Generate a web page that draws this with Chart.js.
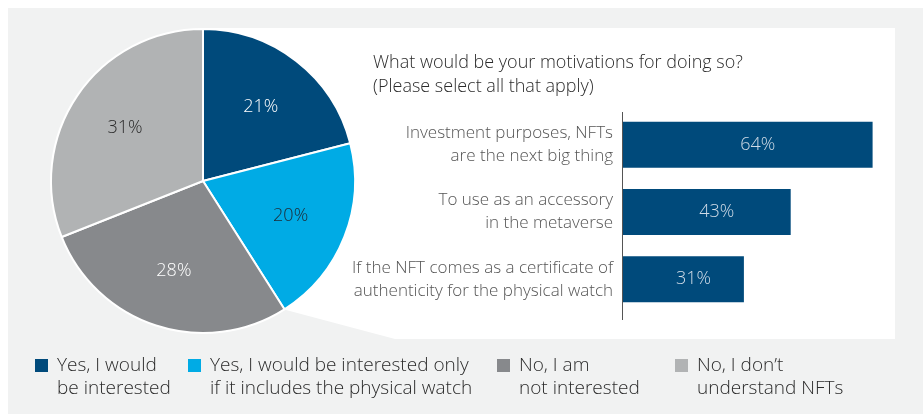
<!DOCTYPE html>
<html lang="en">
  <head>
    <meta charset="UTF-8" />
    <title>NFT motivations</title>
    <script src="https://cdn.jsdelivr.net/npm/chart.js@4"></script>
    <style>
      body { margin: 0; background: #fff; }
      .wrap { position: relative; width: 923px; height: 414px; }
      #pieChart { position: absolute; left: 0; top: 0; }
      #barChart { position: absolute; left: 340px; top: 100px; }
    </style>
  </head>
  <body>
    <div class="wrap">
      <canvas id="pieChart" width="923" height="414"></canvas>
      <canvas id="barChart" width="570" height="230"></canvas>
    </div>

    <script>
      // pie: would you be interested in an NFT of your watch
      const pieLabels = [
        ["Yes, I would", "be interested"],
        ["Yes, I would be interested only", "if it includes the physical watch"],
        ["No, I am", "not interested"],
        ["No, I don\u2019t", "understand NFTs"],
      ];
      const pieValues = [21, 20, 28, 31];
      const pieColors = ["#004a7b", "#00abe5", "#87898c", "#b1b3b4"];
      const pieTextColors = ["#ffffff", "#1d2833", "#ffffff", "#2b2b2b"];

      // bar: motivations
      const barTitle = ["What would be your motivations for doing so?", "(Please select all that apply)"];
      const barLabels = [
        ["Investment purposes, NFTs", "are the next big thing"],
        ["To use as an accessory", "in the metaverse"],
        ["If the NFT comes as a certificate of", "authenticity for the physical watch"],
      ];
      const barValues = [64, 43, 31];

      const legendX = [35, 188, 497, 675];
      const FONT = "'Open Sans', 'Noto Sans', sans-serif";

      Chart.defaults.font.family = FONT;
      Chart.defaults.animation = false;

      // background panels, title and legend drawn under/around the pie
      const backdrop = {
        id: "backdrop",
        beforeDraw(chart) {
          const ctx = chart.ctx;
          ctx.save();
          ctx.fillStyle = "#f1f2f2";
          ctx.fillRect(8, 8, 915, 406);
          ctx.fillStyle = "#ffffff";
          ctx.beginPath();
          ctx.moveTo(203, 28);
          ctx.lineTo(895, 28);
          ctx.lineTo(895, 339);
          ctx.lineTo(395, 339);
          ctx.lineTo(286, 310);
          ctx.lineTo(203, 181);
          ctx.closePath();
          ctx.fill();

          ctx.fillStyle = "#2b2b2b";
          ctx.font = "300 18px " + FONT;
          ctx.textBaseline = "middle";
          ctx.textAlign = "left";
          barTitle.forEach((t, i) => ctx.fillText(t, 373, 63 + i * 24));

          // legend
          ctx.font = "300 19px " + FONT;
          pieLabels.forEach((lines, i) => {
            ctx.fillStyle = pieColors[i];
            ctx.fillRect(legendX[i], 359, 13, 13);
            ctx.fillStyle = "#2b2b2b";
            lines.forEach((l, j) => ctx.fillText(l, legendX[i] + 22, 366 + j * 23));
          });
          ctx.restore();
        },
        afterDatasetsDraw(chart) {
          const ctx = chart.ctx;
          const meta = chart.getDatasetMeta(0);
          ctx.save();
          ctx.font = "300 18px " + FONT;
          ctx.textAlign = "center";
          ctx.textBaseline = "middle";
          meta.data.forEach((arc, i) => {
            const mid = (arc.startAngle + arc.endAngle) / 2;
            const r = arc.outerRadius * 0.62;
            ctx.fillStyle = pieTextColors[i];
            ctx.fillText(pieValues[i] + "%", arc.x + Math.cos(mid) * r, arc.y + Math.sin(mid) * r);
          });
          ctx.restore();
        },
      };

      new Chart(document.getElementById("pieChart"), {
        type: "pie",
        data: {
          labels: pieLabels.map((l) => l.join(" ")),
          datasets: [
            {
              data: pieValues,
              backgroundColor: pieColors,
              borderColor: "#ffffff",
              borderWidth: 2,
            },
          ],
        },
        options: {
          responsive: false,
          layout: { padding: { left: 50, top: 28, right: 567, bottom: 80 } },
          plugins: { legend: { display: false }, tooltip: { enabled: false } },
        },
        plugins: [backdrop],
      });

      // value labels inside bars + axis line running a bit past the last bar
      const barExtras = {
        id: "barExtras",
        afterDatasetsDraw(chart) {
          const ctx = chart.ctx;
          const area = chart.chartArea;
          ctx.save();
          ctx.strokeStyle = "#555555";
          ctx.lineWidth = 1;
          ctx.beginPath();
          ctx.moveTo(area.left - 0.5, area.top + 1);
          ctx.lineTo(area.left - 0.5, area.bottom + 7);
          ctx.stroke();

          ctx.font = "300 18px " + FONT;
          ctx.fillStyle = "#cfdbe7";
          ctx.textAlign = "center";
          ctx.textBaseline = "middle";
          chart.getDatasetMeta(0).data.forEach((bar, i) => {
            ctx.fillText(barValues[i] + "%", (bar.x + bar.base) / 2 + 10, bar.y);
          });
          ctx.restore();
        },
      };

      new Chart(document.getElementById("barChart"), {
        type: "bar",
        data: {
          labels: barLabels,
          datasets: [
            {
              data: barValues,
              backgroundColor: "#004a7b",
              categoryPercentage: 1,
              barPercentage: 0.683,
            },
          ],
        },
        options: {
          indexAxis: "y",
          responsive: false,
          layout: { padding: { top: 11, bottom: 17, right: 14 } },
          plugins: { legend: { display: false }, tooltip: { enabled: false } },
          scales: {
            x: { display: false, min: 0, max: 70 },
            y: {
              afterFit(scale) {
                scale.width = 283;
                scale.paddingTop = 0;
                scale.paddingBottom = 0;
              },
              grid: { display: false, drawTicks: false },
              border: { display: false },
              ticks: {
                padding: 10,
                color: "#555555",
                font: { size: 17, weight: 300, lineHeight: 1.35 },
              },
            },
          },
        },
        plugins: [barExtras],
      });
    </script>
  </body>
</html>
